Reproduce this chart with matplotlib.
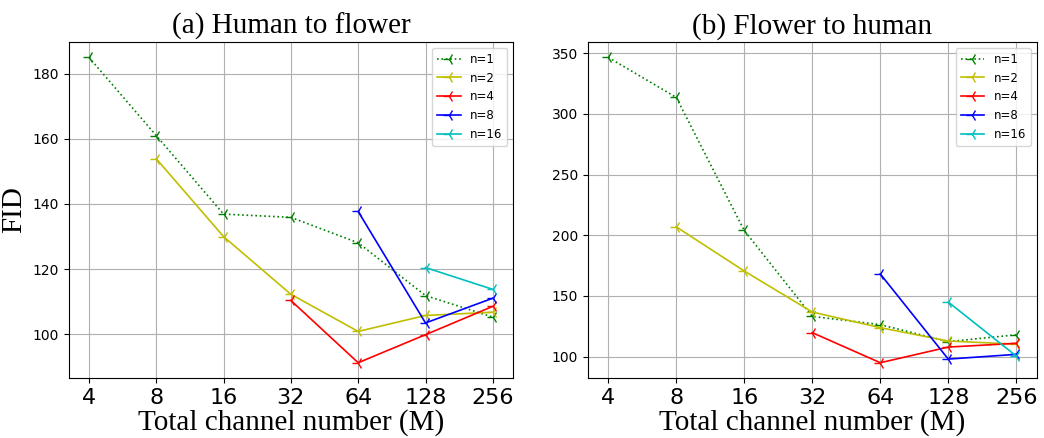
import matplotlib
matplotlib.use('Agg')
import matplotlib.pyplot as plt

# total channel number M
channels = [4, 8, 16, 32, 64, 128, 256]
tick_labels = ['4', '8', '16', '32', '64', '128', '256']

# (a) human to flower
h2f_n1 = [185.0, 161.0, 136.9, 135.9, 128.1, 111.9, 105.3]
h2f_n2 = [153.9, 130.0, 112.3, 100.9, 105.8, 106.8]
h2f_n4 = [110.4, 91.3, 99.9, 108.6]
h2f_n8 = [137.7, 103.5, 111.1]
h2f_n16 = [120.5, 113.8]

# (b) flower to human
f2h_n1 = [346.7, 313.7, 204.0, 133.2, 126.4, 112.4, 118.0]
f2h_n2 = [207.0, 170.6, 136.8, 123.9, 112.9, 110.3]
f2h_n4 = [119.8, 95.0, 107.9, 111.0]
f2h_n8 = [168.2, 98.0, 101.9]
f2h_n16 = [145.0, 100.5]

serif = 'Liberation Serif'

fig = plt.figure(figsize=(10.44, 4.38), dpi=100)
ax1 = fig.add_axes([0.0658, 0.137, 0.4256, 0.767])
ax2 = fig.add_axes([0.563, 0.137, 0.430, 0.767])


def draw(ax, n1, n2, n4, n8, n16, title):
    ms = 9
    ax.plot(channels, n1, 'g:', marker='3', ms=ms, label='n=1', lw=1.2)
    ax.plot(channels[1:], n2, 'y', marker='3', ms=ms, label='n=2', lw=1.2)
    ax.plot(channels[3:], n4, 'r', marker='3', ms=ms, label='n=4', lw=1.2)
    ax.plot(channels[4:], n8, 'b', marker='3', ms=ms, label='n=8', lw=1.2)
    ax.plot(channels[5:], n16, 'c', marker='3', ms=ms, label='n=16', lw=1.2)
    ax.set_xscale('log', base=2)
    ax.set_xticks(channels)
    ax.set_xticklabels(tick_labels, fontsize=16)
    ax.minorticks_off()
    ax.tick_params(axis='y', labelsize=10)
    ax.grid(True)
    ax.set_title(title, fontsize=21, family=serif)
    ax.set_xlabel('Total channel number (M)', fontsize=21, family=serif, labelpad=1)
    ax.legend(loc='upper right', fontsize=8.5)


draw(ax1, h2f_n1, h2f_n2, h2f_n4, h2f_n8, h2f_n16, '(a) Human to flower')
draw(ax2, f2h_n1, f2h_n2, f2h_n4, f2h_n8, f2h_n16, '(b) Flower to human')
ax1.set_yticks([100, 120, 140, 160, 180])
ax2.set_yticks([100, 150, 200, 250, 300, 350])
ax1.set_ylabel('FID', fontsize=21, family=serif)

fig.savefig('out.png', dpi=100)
